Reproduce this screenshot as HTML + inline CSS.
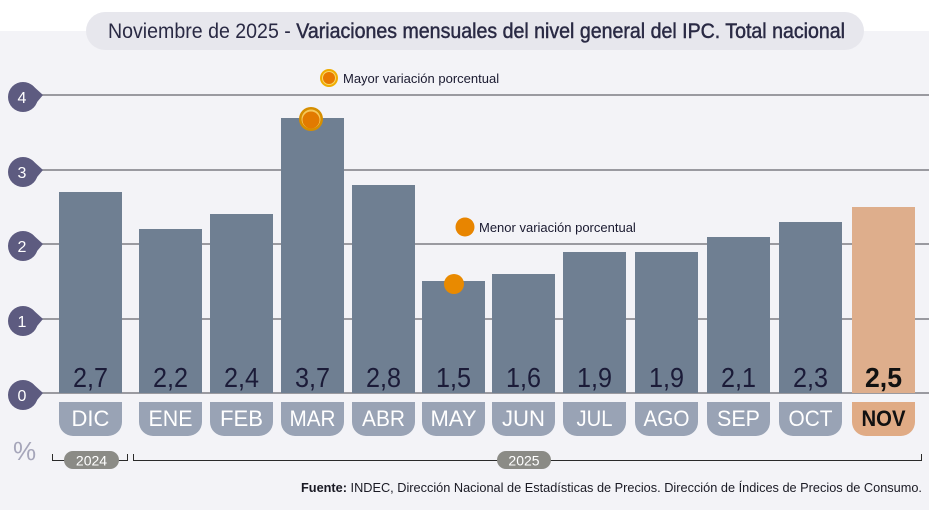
<!DOCTYPE html>
<html><head><meta charset="utf-8"><style>
html,body{margin:0;padding:0;background:#fff;}
svg{display:block;}
text{font-family:"Liberation Sans",Arial,sans-serif;}
</style></head><body>
<svg width="929" height="510" viewBox="0 0 929 510" xmlns="http://www.w3.org/2000/svg">
<rect x="0" y="0" width="929" height="510" fill="#ffffff"/>
<rect x="0" y="31" width="929" height="479" fill="#f3f3f7"/>
<!-- title pill -->
<rect x="86" y="12" width="778" height="38" rx="19" fill="#e7e7ed"/>
<text x="108" y="38" font-size="21" fill="#2a2a44" textLength="737" lengthAdjust="spacingAndGlyphs"><tspan>Noviembre de 2025 - </tspan><tspan stroke="#2a2a44" stroke-width="0.45">Variaciones mensuales del nivel general del IPC. Total nacional</tspan></text>

<!-- gridlines -->
<g stroke="#7c7c84" stroke-width="1.5">
<line x1="42" y1="95" x2="929" y2="95"/>
<line x1="42" y1="170" x2="929" y2="170"/>
<line x1="42" y1="244" x2="929" y2="244"/>
<line x1="42" y1="319" x2="929" y2="319"/>
<line x1="42" y1="393" x2="929" y2="393"/>
</g>
<!-- ticks -->
<g fill="#5d5b80">
<circle cx="23" cy="97" r="15"/><polygon points="32,85 43,95 32,108"/>
<circle cx="23" cy="172" r="15"/><polygon points="32,160 43,170 32,183"/>
<circle cx="23" cy="246" r="15"/><polygon points="32,234 43,244 32,257"/>
<circle cx="23" cy="321" r="15"/><polygon points="32,309 43,319 32,332"/>
<circle cx="23" cy="395" r="15"/><polygon points="32,383 43,393 32,406"/>
</g>
<g fill="#ffffff" font-size="16" text-anchor="middle">
<text x="22" y="103">4</text>
<text x="22" y="178">3</text>
<text x="22" y="252">2</text>
<text x="22" y="327">1</text>
<text x="22" y="401">0</text>
</g>

<!-- bars -->
<g fill="#6f7f92">
<rect x="59" y="192" width="63" height="201"/>
<rect x="139" y="229" width="63" height="164"/>
<rect x="210" y="214" width="63" height="179"/>
<rect x="281" y="118" width="63" height="275"/>
<rect x="352" y="185" width="63" height="208"/>
<rect x="422" y="281" width="63" height="112"/>
<rect x="492" y="274" width="63" height="119"/>
<rect x="563" y="252" width="63" height="141"/>
<rect x="635" y="252" width="63" height="141"/>
<rect x="707" y="237" width="63" height="156"/>
<rect x="779" y="222" width="63" height="171"/>
</g>
<rect x="852" y="207" width="63" height="186" fill="#deae8c"/>

<!-- values -->
<g font-size="28" fill="#1b1b38">
<text x="73" y="387" textLength="35" lengthAdjust="spacingAndGlyphs">2,7</text>
<text x="153" y="387" textLength="35" lengthAdjust="spacingAndGlyphs">2,2</text>
<text x="224" y="387" textLength="35" lengthAdjust="spacingAndGlyphs">2,4</text>
<text x="295" y="387" textLength="35" lengthAdjust="spacingAndGlyphs">3,7</text>
<text x="366" y="387" textLength="35" lengthAdjust="spacingAndGlyphs">2,8</text>
<text x="436" y="387" textLength="35" lengthAdjust="spacingAndGlyphs">1,5</text>
<text x="506" y="387" textLength="35" lengthAdjust="spacingAndGlyphs">1,6</text>
<text x="577" y="387" textLength="35" lengthAdjust="spacingAndGlyphs">1,9</text>
<text x="649" y="387" textLength="35" lengthAdjust="spacingAndGlyphs">1,9</text>
<text x="721" y="387" textLength="35" lengthAdjust="spacingAndGlyphs">2,1</text>
<text x="793" y="387" textLength="35" lengthAdjust="spacingAndGlyphs">2,3</text>
<text x="865" y="387" font-weight="bold" fill="#111" textLength="37" lengthAdjust="spacingAndGlyphs">2,5</text>
</g>

<!-- month tabs -->
<g fill="#99a3b5">
<path d="M59,402 H122 V422 A14,14 0 0 1 108,436 H73 A14,14 0 0 1 59,422 Z"/>
<path d="M139,402 H202 V422 A14,14 0 0 1 188,436 H153 A14,14 0 0 1 139,422 Z"/>
<path d="M210,402 H273 V422 A14,14 0 0 1 259,436 H224 A14,14 0 0 1 210,422 Z"/>
<path d="M281,402 H344 V422 A14,14 0 0 1 330,436 H295 A14,14 0 0 1 281,422 Z"/>
<path d="M352,402 H415 V422 A14,14 0 0 1 401,436 H366 A14,14 0 0 1 352,422 Z"/>
<path d="M422,402 H485 V422 A14,14 0 0 1 471,436 H436 A14,14 0 0 1 422,422 Z"/>
<path d="M492,402 H555 V422 A14,14 0 0 1 541,436 H506 A14,14 0 0 1 492,422 Z"/>
<path d="M563,402 H626 V422 A14,14 0 0 1 612,436 H577 A14,14 0 0 1 563,422 Z"/>
<path d="M635,402 H698 V422 A14,14 0 0 1 684,436 H649 A14,14 0 0 1 635,422 Z"/>
<path d="M707,402 H770 V422 A14,14 0 0 1 756,436 H721 A14,14 0 0 1 707,422 Z"/>
<path d="M779,402 H842 V422 A14,14 0 0 1 828,436 H793 A14,14 0 0 1 779,422 Z"/>
</g>
<path d="M852,402 H915 V422 A14,14 0 0 1 901,436 H866 A14,14 0 0 1 852,422 Z" fill="#e0ab85"/>
<g font-size="22" fill="#ffffff" text-anchor="middle">
<text x="90.5" y="426">DIC</text>
<text x="170.5" y="426" textLength="44" lengthAdjust="spacingAndGlyphs">ENE</text>
<text x="241.5" y="426" textLength="43" lengthAdjust="spacingAndGlyphs">FEB</text>
<text x="312.5" y="426" textLength="46" lengthAdjust="spacingAndGlyphs">MAR</text>
<text x="383.5" y="426" textLength="43" lengthAdjust="spacingAndGlyphs">ABR</text>
<text x="453.5" y="426" textLength="46" lengthAdjust="spacingAndGlyphs">MAY</text>
<text x="523.5" y="426" textLength="43" lengthAdjust="spacingAndGlyphs">JUN</text>
<text x="594.5" y="426" textLength="36" lengthAdjust="spacingAndGlyphs">JUL</text>
<text x="666.5" y="426" textLength="46" lengthAdjust="spacingAndGlyphs">AGO</text>
<text x="738.5" y="426" textLength="43" lengthAdjust="spacingAndGlyphs">SEP</text>
<text x="810.5" y="426" textLength="44" lengthAdjust="spacingAndGlyphs">OCT</text>
<text x="883.5" y="426" font-weight="bold" fill="#111" textLength="44" lengthAdjust="spacingAndGlyphs">NOV</text>
</g>

<!-- markers & legend -->
<circle cx="329" cy="78" r="9" fill="#f0ac00"/>
<circle cx="329" cy="78" r="7" fill="#f8d86a"/>
<circle cx="329" cy="78" r="6" fill="#e87a00"/>
<text x="343" y="83" font-size="13" fill="#1a1a30">Mayor variación porcentual</text>
<circle cx="311" cy="119" r="12" fill="#d68e00"/>
<circle cx="311" cy="119" r="9.5" fill="#f6c85a"/>
<circle cx="311" cy="120" r="8.5" fill="#e27a00"/>

<circle cx="465" cy="227" r="9.5" fill="#e88500"/>
<text x="479" y="232" font-size="13" fill="#1a1a30">Menor variación porcentual</text>
<circle cx="454" cy="284" r="10" fill="#e98a00"/>

<!-- % -->
<text x="13" y="460" font-size="26" fill="#a6a6ba">%</text>

<!-- year brackets -->
<g stroke="#2a2a2a" stroke-width="1" fill="none">
<polyline points="52.5,454 52.5,460.5 127.5,460.5 127.5,454"/>
<polyline points="133.5,454 133.5,460.5 921.5,460.5 921.5,454"/>
</g>
<rect x="64" y="451" width="55" height="18" rx="9" fill="#8b8b86"/>
<text x="91.5" y="465.5" font-size="14" fill="#ffffff" text-anchor="middle">2024</text>
<rect x="497" y="451" width="54" height="18" rx="9" fill="#8b8b86"/>
<text x="524" y="465.5" font-size="14" fill="#ffffff" text-anchor="middle">2025</text>

<!-- source -->
<text x="922" y="492" font-size="13" fill="#1a1a24" text-anchor="end" textLength="621" lengthAdjust="spacingAndGlyphs"><tspan font-weight="bold">Fuente:</tspan> INDEC, Dirección Nacional de Estadísticas de Precios. Dirección de Índices de Precios de Consumo.</text>
</svg>
</body></html>
